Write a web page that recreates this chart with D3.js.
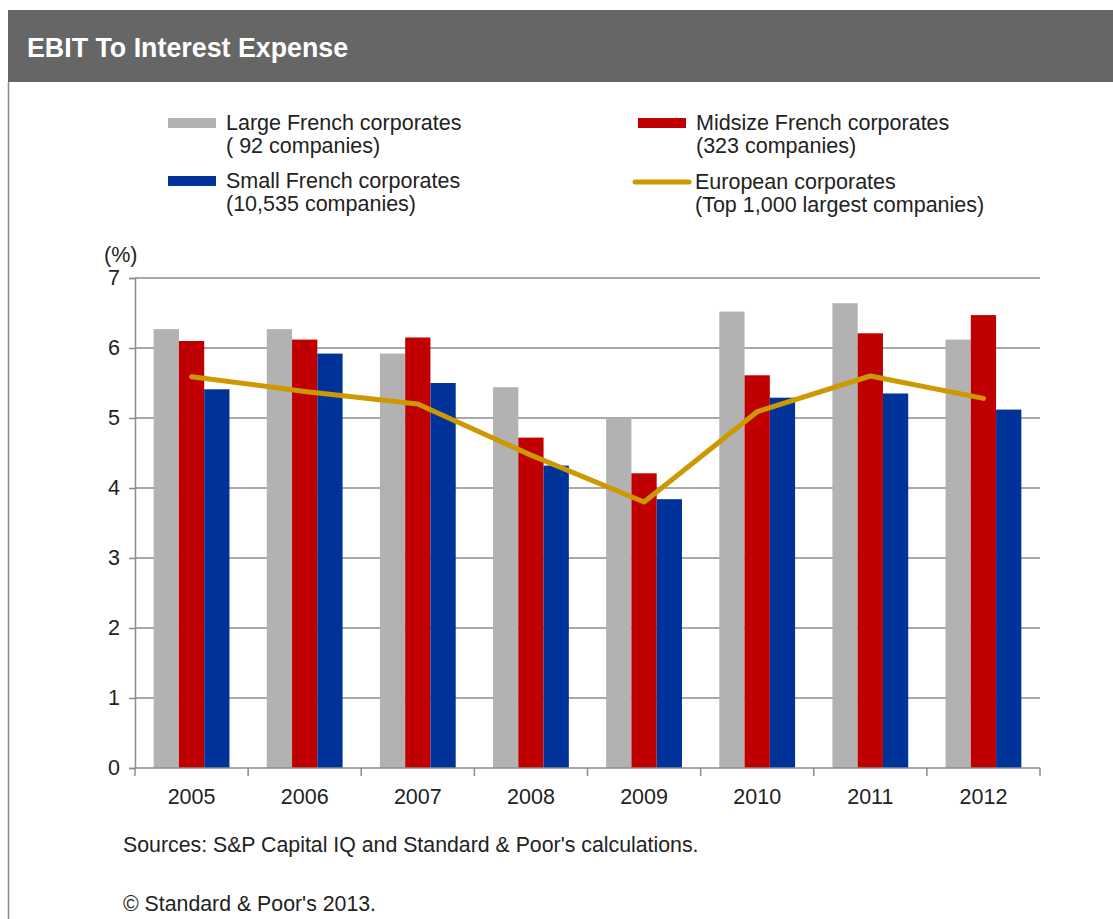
<!DOCTYPE html>
<html>
<head>
<meta charset="utf-8">
<script src="https://cdn.jsdelivr.net/npm/d3@7"></script>
<style>
  html, body { margin: 0; padding: 0; background: #fff; }
  svg { display: block; }
  text { font-family: "Liberation Sans", Arial, sans-serif; fill: #222; }
</style>
</head>
<body>
<svg id="chart" width="1113" height="919"></svg>
<script>
// EBIT to interest expense, 2005-2012
const years = ["2005", "2006", "2007", "2008", "2009", "2010", "2011", "2012"];
const largeFrench  = [6.27, 6.27, 5.92, 5.44, 5.00, 6.52, 6.64, 6.12];
const midsizeFrench = [6.10, 6.12, 6.15, 4.72, 4.21, 5.61, 6.21, 6.47];
const smallFrench  = [5.41, 5.92, 5.50, 4.32, 3.84, 5.29, 5.35, 5.12];
const european     = [5.59, 5.38, 5.20, 4.47, 3.80, 5.09, 5.60, 5.28];
const yTicks = [0, 1, 2, 3, 4, 5, 6, 7];

const barSeries = [
  { key: "large",   label: ["Large French corporates", "( 92 companies)"],   color: "#b2b2b2", values: largeFrench },
  { key: "midsize", label: ["Midsize French corporates", "(323 companies)"],  color: "#c00000", values: midsizeFrench },
  { key: "small",   label: ["Small French corporates", "(10,535 companies)"], color: "#003399", values: smallFrench }
];
const lineSeries = { label: ["European corporates", "(Top 1,000 largest companies)"], color: "#cc9900", values: european };

const FS = 21.5;
const svg = d3.select("#chart");

// Frame: header band and left rule
svg.append("rect").attr("x", 8).attr("y", 10).attr("width", 1105).attr("height", 72).attr("fill", "#666666");
svg.append("line").attr("x1", 8.5).attr("x2", 8.5).attr("y1", 82).attr("y2", 919)
  .attr("stroke", "#8a8a8a").attr("stroke-width", 1.5);
svg.append("text").attr("x", 27).attr("y", 57)
  .attr("font-size", 26.8).attr("font-weight", "bold").style("fill", "#ffffff")
  .text("EBIT To Interest Expense");

// Plot area
const plot = { left: 135, right: 1040, top: 278, bottom: 768 };

const x0 = d3.scaleBand().domain(years).range([plot.left, plot.right])
  .paddingInner(0.33).paddingOuter(0.165);
const x1 = d3.scaleBand().domain(barSeries.map(s => s.key)).range([0, x0.bandwidth()]);
const y = d3.scaleLinear().domain([0, 7]).range([plot.bottom, plot.top]);

// Horizontal gridlines
svg.append("g").selectAll("line").data(yTicks.filter(t => t > 0)).join("line")
  .attr("x1", plot.left).attr("x2", plot.right)
  .attr("y1", d => y(d)).attr("y2", d => y(d))
  .attr("stroke", "#8c8c8c").attr("stroke-width", 1.5);

// Bars
const groups = svg.append("g").selectAll("g").data(years).join("g")
  .attr("transform", d => `translate(${x0(d)},0)`);
groups.selectAll("rect")
  .data((yr, i) => barSeries.map(s => ({ key: s.key, color: s.color, v: s.values[i] })))
  .join("rect")
  .attr("x", d => x1(d.key))
  .attr("width", x1.bandwidth())
  .attr("y", d => y(d.v))
  .attr("height", d => y(0) - y(d.v))
  .attr("fill", d => d.color);

// European corporates line
const line = d3.line()
  .x((d, i) => x0(years[i]) + x0.bandwidth() / 2)
  .y(d => y(d));
svg.append("path").datum(lineSeries.values)
  .attr("d", line).attr("fill", "none")
  .attr("stroke", lineSeries.color).attr("stroke-width", 5)
  .attr("stroke-linejoin", "round").attr("stroke-linecap", "round");

// Y axis
const yAxis = d3.axisLeft(y).tickValues(yTicks).tickSize(6).tickPadding(9).tickFormat(d3.format("d"));
const yG = svg.append("g").attr("transform", `translate(${plot.left},0)`).call(yAxis);
yG.select(".domain").attr("stroke", "#8c8c8c").attr("stroke-width", 1.5);
yG.selectAll(".tick line").attr("stroke", "#8c8c8c").attr("stroke-width", 1.5);
yG.selectAll(".tick text").attr("font-size", FS).attr("font-family", "Liberation Sans, Arial, sans-serif").style("fill", "#222");

// X axis: baseline, boundary ticks and year labels
const step = x0.step();
const boundaries = d3.range(years.length + 1).map(i => plot.left + i * step);
svg.append("line").attr("x1", plot.left).attr("x2", plot.right)
  .attr("y1", y(0)).attr("y2", y(0)).attr("stroke", "#8c8c8c").attr("stroke-width", 1.5);
svg.append("g").selectAll("line").data(boundaries).join("line")
  .attr("x1", d => d).attr("x2", d => d)
  .attr("y1", y(0)).attr("y2", y(0) + 8)
  .attr("stroke", "#8c8c8c").attr("stroke-width", 1.5);
svg.append("g").selectAll("text").data(years).join("text")
  .attr("x", d => x0(d) + x0.bandwidth() / 2)
  .attr("y", y(0) + 36)
  .attr("text-anchor", "middle").attr("font-size", FS)
  .text(d => d);

// Unit label
svg.append("text").attr("x", 104).attr("y", 262).attr("font-size", FS).text("(%)");

// Legend
const legendItems = [
  { s: barSeries[0], x: 168, y: 123, type: "rect" },
  { s: barSeries[1], x: 638, y: 123, type: "rect" },
  { s: barSeries[2], x: 168, y: 181, type: "rect" },
  { s: lineSeries,   x: 635, y: 182, type: "line" }
];
const leg = svg.append("g").selectAll("g").data(legendItems).join("g")
  .attr("transform", d => `translate(${d.x},${d.y})`);
leg.filter(d => d.type === "rect").append("rect")
  .attr("x", 0).attr("y", -5).attr("width", 48).attr("height", 10)
  .attr("fill", d => d.s.color);
leg.filter(d => d.type === "line").append("line")
  .attr("x1", 0).attr("x2", 54).attr("y1", 0).attr("y2", 0)
  .attr("stroke", d => d.s.color).attr("stroke-width", 5).attr("stroke-linecap", "round");
leg.each(function (d) {
  const t = d3.select(this).append("text").attr("font-size", FS);
  d.s.label.forEach((ln, i) => {
    t.append("tspan").attr("x", d.type === "line" ? 60 : 58).attr("y", 7 + i * 23).text(ln);
  });
});

// Footnotes
svg.append("text").attr("x", 123).attr("y", 852).attr("font-size", 21.3)
  .text("Sources: S&P Capital IQ and Standard & Poor's calculations.");
svg.append("text").attr("x", 123).attr("y", 911).attr("font-size", 21.3)
  .text("© Standard & Poor's 2013.");
</script>
</body>
</html>
